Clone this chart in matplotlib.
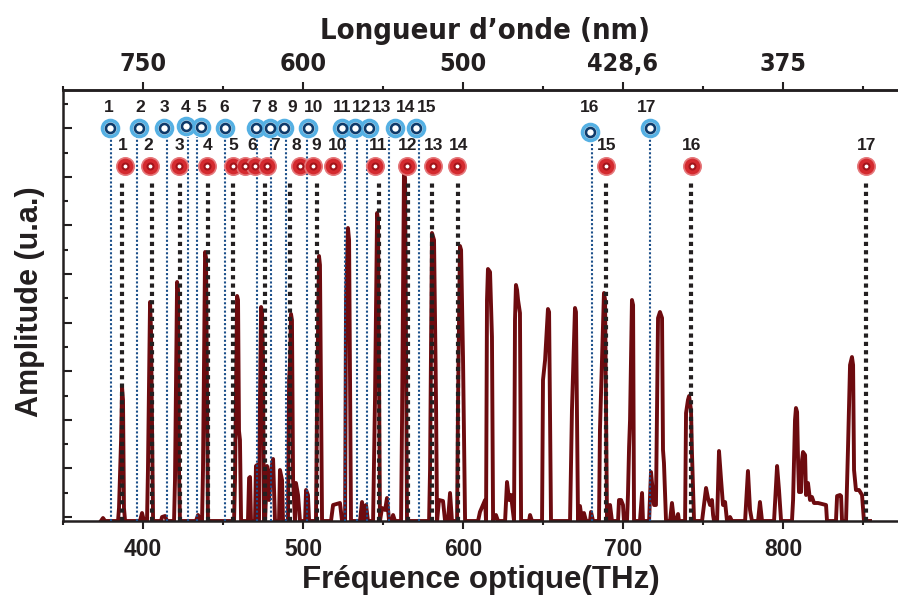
import numpy as np
import matplotlib.pyplot as plt

# ==========================================
# Data
# ==========================================
# Spectrum: optical frequency (THz) / amplitude (arbitrary units)
freq_thz = [
    373.7, 375.0, 376.3, 384.4, 385.0, 386.3, 386.9, 387.5, 388.1, 388.8,
    398.1, 399.4, 400.6, 402.5, 403.1, 404.4, 405.0, 406.3,
    411.3, 411.9, 413.8, 415.0, 419.4, 420.0, 421.3, 421.9, 422.5, 423.1,
    433.1, 434.4, 435.6, 436.9, 437.5, 438.8, 439.4, 440.6,
    456.9, 457.5, 458.8, 459.4, 460.0, 460.6, 461.3,
    465.6, 466.3, 466.9, 467.5, 470.0, 470.6, 471.3, 471.9, 472.5, 473.1, 473.8, 474.4, 475.0, 475.6,
    476.3, 477.5, 478.8, 480.0, 481.3, 482.5, 485.0, 485.6, 486.9, 487.5,
    490.6, 491.3, 491.9, 492.5, 493.1, 493.8, 495.0, 495.6, 496.9, 498.1, 501.3, 501.9, 503.1, 503.8,
    508.1, 508.8, 510.0, 510.6, 511.9, 517.5, 518.8, 523.1, 524.4, 526.3, 526.9, 528.1, 528.8, 530.0,
    535.6, 536.9, 538.1, 539.4, 540.6, 543.8, 545.0, 546.3, 546.9, 548.1, 549.4, 551.3, 552.5, 553.8, 555.6, 556.3, 557.5,
    561.3, 561.9, 563.1, 563.8, 565.0, 578.8, 579.4, 580.6, 581.9, 583.1, 583.8, 585.0, 587.5, 588.8, 590.6, 591.9, 593.1,
    596.3, 596.9, 598.1, 598.8, 600.0, 601.3, 609.4, 610.6, 612.5, 613.8, 614.4, 615.0, 615.6, 616.9, 618.1, 618.8, 620.6, 621.9,
    626.3, 627.5, 628.8, 630.0, 631.9, 632.5, 633.1, 633.8, 634.4, 635.6, 636.3, 641.3, 641.9, 643.1,
    649.4, 650.0, 651.3, 653.1, 653.8, 655.0, 666.9, 668.1, 670.0, 670.6, 671.9, 673.1, 674.4, 675.6, 676.9, 679.4, 680.0, 681.3,
    685.0, 685.6, 688.1, 688.8, 690.0, 691.3, 691.9, 693.1, 696.9, 697.5, 698.8, 700.0, 700.6,
    702.5, 703.1, 703.8, 704.4, 705.6, 706.3, 706.9, 710.6, 711.9, 712.5, 716.3, 717.5, 719.4, 720.6, 721.3, 721.9, 723.1, 724.4, 725.0, 725.6, 726.9,
    729.4, 730.6, 731.9, 733.8, 734.4, 735.0, 738.8, 739.4, 740.6, 741.3, 742.5, 743.1, 744.4,
    749.4, 750.6, 751.9, 753.1, 754.4, 755.6, 756.3, 756.9, 758.8, 760.0, 761.3, 762.5, 763.8, 765.0, 766.9, 768.1,
    776.3, 778.1, 779.4, 780.6, 784.4, 785.6, 786.9, 794.4, 796.3, 797.5, 798.8,
    805.6, 806.3, 807.5, 808.1, 808.8, 809.4, 810.0, 811.3, 811.9, 812.5, 813.8, 814.4, 815.6, 816.9, 818.1, 819.4, 821.9, 824.4, 826.9, 827.5,
    833.1, 833.8, 835.6, 836.3, 836.9, 839.4, 840.6, 841.9, 843.1, 843.8, 844.4, 845.6, 847.5, 849.4, 850.6, 854.4,
]
amplitude = [
    0, 3, 0, 0, 13, 81, 134, 121, 13, 0,
    0, 8, 0, 0, 51, 219, 191, 0,
    0, 4, 5, 0, 0, 41, 239, 231, 51, 0,
    0, 6, 0, 0, 51, 269, 263, 0,
    0, 41, 225, 221, 90, 81, 0,
    0, 43, 44, 0, 0, 55, 56, 0, 0, 121, 214, 209, 165, 0,
    0, 55, 21, 51, 62, 0, 0, 51, 41, 0,
    0, 141, 158, 207, 201, 41, 0, 38, 26, 0, 0, 31, 26, 0,
    0, 121, 265, 256, 0, 0, 16, 18, 0, 0, 221, 293, 281, 0,
    0, 19, 0, 16, 0, 0, 121, 308, 301, 0, 13, 11, 23, 0, 0, 6, 0,
    0, 101, 348, 343, 0, 0, 51, 288, 281, 124, 0, 21, 20, 0, 0, 28, 0,
    0, 121, 275, 271, 164, 0, 0, 9, 16, 21, 0, 221, 252, 249, 184, 0, 6, 0,
    0, 39, 21, 26, 0, 201, 236, 231, 221, 208, 0, 0, 6, 0,
    0, 141, 161, 212, 209, 0, 0, 111, 213, 209, 0, 15, 0, 8, 0, 0, 9, 0,
    0, 91, 228, 221, 0, 0, 16, 0, 0, 21, 21, 16, 0,
    0, 26, 74, 101, 221, 216, 0, 0, 28, 0, 0, 49, 16, 16, 121, 203, 209, 203, 71, 58, 0,
    0, 18, 0, 3, 7, 0, 0, 108, 121, 125, 111, 68, 0,
    0, 16, 33, 23, 16, 21, 6, 0, 0, 70, 41, 16, 19, 0, 4, 0,
    0, 50, 11, 0, 0, 19, 0, 0, 55, 31, 0,
    0, 21, 101, 113, 109, 61, 29, 29, 61, 69, 66, 26, 38, 21, 24, 18, 18, 17, 16, 0,
    0, 25, 26, 25, 0, 0, 71, 156, 164, 156, 51, 31, 31, 26, 0, 0,
]

# Blue resonances (markers, guide lines, labels)
blue_marker_thz = [379.4, 397.5, 413.1, 426.9, 436.3, 451.3, 470.6, 479.4, 488.1,
                   503.1, 524.4, 532.5, 541.3, 557.5, 570.6, 679.4, 716.9]
blue_marker_amp = [393, 393, 393, 395, 394, 393, 393, 393, 393,
                   393, 393, 393, 393, 393, 393, 389, 393]
blue_line_thz = [380.0, 396.3, 415.0, 428.1, 433.8, 451.3, 471.3, 480.0, 489.4,
                 502.5, 526.3, 533.8, 540.0, 553.8, 572.5, 680.6, 716.9]
blue_label_thz = [378.8, 398.1, 413.1, 426.3, 436.3, 450.6, 470.6, 480.6, 493.1,
                  506.9, 524.4, 536.9, 549.4, 563.8, 577.5, 679.4, 715.0]
blue_labels = [str(i) for i in range(1, 18)]

# Red resonances
red_marker_thz = [388.8, 404.4, 422.5, 440.0, 456.3, 463.8, 470.0, 477.5, 498.1,
                  506.3, 518.8, 545.0, 565.0, 581.3, 596.3, 689.4, 743.1, 851.9]
red_line_thz = [386.9, 405.6, 423.1, 440.6, 456.3, 476.3, 491.9, 508.8, 547.5,
                565.6, 580.6, 596.9, 689.4, 742.5, 851.9]
red_label_thz = [387.5, 403.1, 422.5, 440.6, 456.3, 468.1, 482.5, 495.6, 508.1,
                 521.3, 546.9, 565.6, 581.3, 597.5, 690.0, 743.1, 852.5]
red_labels = [str(i) for i in range(1, 18)]

freq_ticks = [400, 500, 600, 700, 800]
freq_minor = [350, 450, 550, 650, 750, 850]
wavelength_labels = ["750", "600", "500", "428,6", "375"]

# ==========================================
# Figure
# ==========================================
ink = '#231f20'
plt.rcParams['font.family'] = ['Liberation Sans', 'DejaVu Sans']
narrow = dict(family=['DejaVu Sans'], stretch='condensed', fontweight='bold')

fig = plt.figure(figsize=(8.98, 5.99), dpi=100)
ax = fig.add_axes([63 / 898, 78 / 599, 836 / 898, 431 / 599])

ax.plot(freq_thz, amplitude, color='#6d0b0f', lw=2.8, solid_joinstyle='round', zorder=2)

ax.vlines(blue_line_thz, 0, 384, colors='#1b4f8a', linestyles=[(0, (1, 1))], lw=1.5, zorder=3)
ax.vlines(red_line_thz, 0, 341, colors=ink, linestyles=[(0, (1, 1))], lw=3, zorder=3)

# blue markers: light blue ring, navy ring, white centre
ax.plot(blue_marker_thz, blue_marker_amp, 'o', ms=11.5, mfc='white', mec='#55b0e3', mew=2.6, zorder=5)
ax.plot(blue_marker_thz, blue_marker_amp, 'o', ms=6.5, mfc='white', mec='#0e3a6a', mew=1.9, zorder=6)

# red markers: red disc with white centre
red_y = np.full(len(red_marker_thz), 355)
ax.plot(red_marker_thz, red_y, 'o', ms=12.5, mfc='#d42a2f', mec='#e5787b', mew=1.2, zorder=5)
ax.plot(red_marker_thz, red_y, 'o', ms=4.3, mfc='white', mec='#a3141a', mew=1.5, zorder=6)

for f, lab in zip(blue_label_thz, blue_labels):
    ax.text(f, 413, lab, ha='center', va='center', fontsize=12.5, fontweight='bold', color=ink, zorder=7)
for f, lab in zip(red_label_thz, red_labels):
    ax.text(f, 375, lab, ha='center', va='center', fontsize=12.5, fontweight='bold', color=ink, zorder=7)

ax.set_xlim(350, 872.5)
ax.set_ylim(0, 431)

# axes styling
for side in ['left', 'bottom', 'top']:
    ax.spines[side].set_linewidth(1.8)
    ax.spines[side].set_color(ink)
ax.spines['right'].set_visible(False)

yt = np.arange(18) * 24.3 + 4
ax.set_yticks(yt[::2])
ax.set_yticks(yt[1::2], minor=True)
ax.set_yticklabels([])
ax.tick_params(axis='y', which='major', direction='in', length=6.5, width=1.5, color=ink)
ax.tick_params(axis='y', which='minor', direction='in', length=3.6, width=1.5, color=ink)

ax.set_xticks(freq_ticks)
ax.set_xticks(freq_minor, minor=True)
ax.set_xticklabels([str(t) for t in freq_ticks], fontsize=16.5, fontweight='bold', color=ink)
ax.tick_params(axis='x', which='major', direction='out', length=6, width=1.5, pad=6, color=ink)
ax.tick_params(axis='x', which='minor', direction='out', length=3, width=1.5, color=ink)

top = ax.secondary_xaxis('top')
top.set_xticks(freq_ticks)
top.set_xticks(freq_minor, minor=True)
top.set_xticklabels(wavelength_labels, fontsize=18, color=ink, **narrow)
top.tick_params(axis='x', which='major', direction='out', length=6, width=1.5, pad=4, color=ink)
top.tick_params(axis='x', which='minor', direction='out', length=3, width=1.5, color=ink)
top.spines['top'].set_linewidth(1.8)
top.spines['top'].set_color(ink)

fig.text(481 / 898, 1 - 580 / 599, "Fréquence optique(THz)", ha='center', va='center',
         fontsize=22.5, fontweight='bold', color=ink)
fig.text(30 / 898, 1 - 302 / 599, "Amplitude (u.a.)", ha='center', va='center',
         rotation=90, fontsize=22, fontweight='bold', color=ink)
fig.text(485 / 898, 1 - 31 / 599, "Longueur d\u2019onde (nm)", ha='center', va='center',
         fontsize=21, color=ink, **narrow)

fig.savefig("out.png", dpi=100)
